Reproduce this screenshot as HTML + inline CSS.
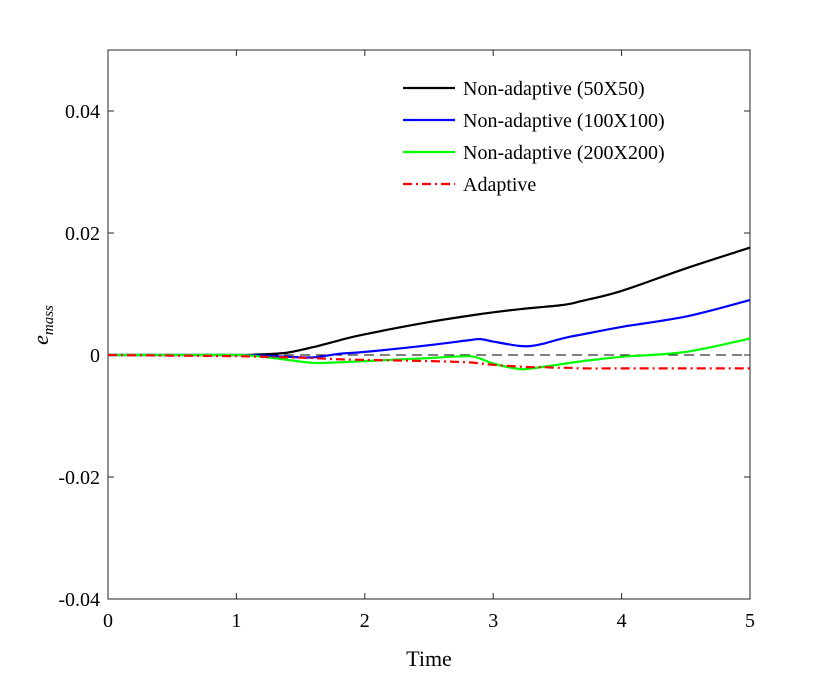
<!DOCTYPE html>
<html><head><meta charset="utf-8"><style>
body{margin:0;background:#fff;}
svg text{font-family:"Liberation Serif",serif;fill:#000;}
</style></head><body>
<svg id="chart" width="830" height="674" xmlns="http://www.w3.org/2000/svg">
<g id="plot"></g>
</svg>
<script>
const ts=[0,0.5,1,1.2,1.4,1.6,1.8,2,2.5,2.8,2.9,3,3.2,3.3,3.4,3.5,3.6,3.7,4,4.5,5];
const black=[0,0,0,0.0001,0.0004,0.0013,0.0024,0.0034,0.0054,0.0064,0.0067,0.007,0.0075,0.0077,0.0079,0.0081,0.0084,0.0089,0.0105,0.0142,0.0176];
const blue=[0,0,0,-0.0001,-0.0003,-0.0004,0.0002,0.0005,0.0016,0.0024,0.0026,0.0022,0.0015,0.0015,0.0019,0.0025,0.003,0.0034,0.0046,0.0063,0.009];
const green=[0,0,0,-0.0003,-0.0008,-0.0013,-0.0012,-0.001,-0.0005,-0.0002,-0.0006,-0.0014,-0.0023,-0.0022,-0.0019,-0.0016,-0.0013,-0.001,-0.0003,0.0005,0.0027];
const red=[0,-0.0001,-0.0002,-0.0003,-0.0004,-0.0005,-0.0007,-0.0008,-0.001,-0.0012,-0.0014,-0.0016,-0.0019,-0.002,-0.002,-0.0021,-0.0021,-0.0022,-0.0022,-0.0022,-0.0022];
const xTicks=[0,1,2,3,4,5];
const yTicks=[-0.04,-0.02,0,0.02,0.04];
const yTickLabels=["-0.04","-0.02","0","0.02","0.04"];
const legendLabels=["Non-adaptive (50X50)","Non-adaptive (100X100)","Non-adaptive (200X200)","Adaptive"];
const L=108,R=750,T=50,B=599;
const X=t=>L+(t-0)/5*(R-L);
const Y=v=>B-(v+0.04)/0.09*(B-T);
const g=document.getElementById('plot');
const NS='http://www.w3.org/2000/svg';
function mk(tag,attrs,parent){const e=document.createElementNS(NS,tag);for(const k in attrs)e.setAttribute(k,attrs[k]);(parent||g).appendChild(e);return e;}
function smooth(pts){
 let d='M'+pts[0][0].toFixed(1)+','+pts[0][1].toFixed(1);
 for(let i=0;i<pts.length-1;i++){
  const p0=pts[Math.max(0,i-1)],p1=pts[i],p2=pts[i+1],p3=pts[Math.min(pts.length-1,i+2)];
  const c1=[p1[0]+(p2[0]-p0[0])/6,p1[1]+(p2[1]-p0[1])/6];
  const c2=[p2[0]-(p3[0]-p1[0])/6,p2[1]-(p3[1]-p1[1])/6];
  d+=' C'+c1[0].toFixed(1)+','+c1[1].toFixed(1)+' '+c2[0].toFixed(1)+','+c2[1].toFixed(1)+' '+p2[0].toFixed(1)+','+p2[1].toFixed(1);
 }
 return d;
}
let e=mk('rect',{x:L,y:T,width:R-L,height:B-T,fill:'#fff',stroke:'#262626','stroke-width':1});


e=mk('line',{x1:L,x2:R,y1:Y(0),y2:Y(0),stroke:'#000','stroke-width':1,'stroke-dasharray':'10,6'});


xTicks.forEach(t=>{
 mk('line',{x1:X(t),x2:X(t),y1:B,y2:B-6,stroke:'#262626'});
 mk('line',{x1:X(t),x2:X(t),y1:T,y2:T+6,stroke:'#262626'});
 const tx=mk('text',{x:X(t),y:B+28,'text-anchor':'middle','font-size':20});
 tx.textContent=t;
 
 
});
yTicks.forEach((v,i)=>{
 mk('line',{x1:L,x2:L+6,y1:Y(v),y2:Y(v),stroke:'#262626'});
 mk('line',{x1:R,x2:R-6,y1:Y(v),y2:Y(v),stroke:'#262626'});
 const tx=mk('text',{x:L-8,y:Y(v)+7,'text-anchor':'end','font-size':20});
 tx.textContent=yTickLabels[i];
 
 
});
const series=[[black,'#000',null,'series-50x50'],[blue,'#0000ff',null,'series-100x100'],[green,'#00ff00',null,'series-200x200'],[red,'#ff0000','9,4,2,4','series-adaptive']];
series.forEach(s=>{
 const pts=ts.map((t,i)=>[X(t),Y(s[0][i])]);
 const a={d:smooth(pts),fill:'none',stroke:s[1],'stroke-width':2.2,'stroke-linejoin':'round'};
 if(s[2])a['stroke-dasharray']=s[2];
 const p=mk('path',a);
 
 
});
legendLabels.forEach((lab,i)=>{
 const y=88+i*32;
 const a={x1:403,x2:455,y1:y,y2:y,stroke:series[i][1],'stroke-width':2.2};
 if(series[i][2])a['stroke-dasharray']=series[i][2];
 const ln=mk('line',a);
 
 
 const tx=mk('text',{x:463,y:y+7,'font-size':20});
 tx.textContent=lab;
 
 
});
let xt=mk('text',{x:429,y:666,'text-anchor':'middle','font-size':22});
xt.textContent='Time';


let yt=mk('text',{transform:'translate(48,325) rotate(-90)','text-anchor':'middle','font-size':22,'font-style':'italic'});
yt.innerHTML='e<tspan font-size="15" dy="5">mass</tspan>';


</script>
</body></html>
